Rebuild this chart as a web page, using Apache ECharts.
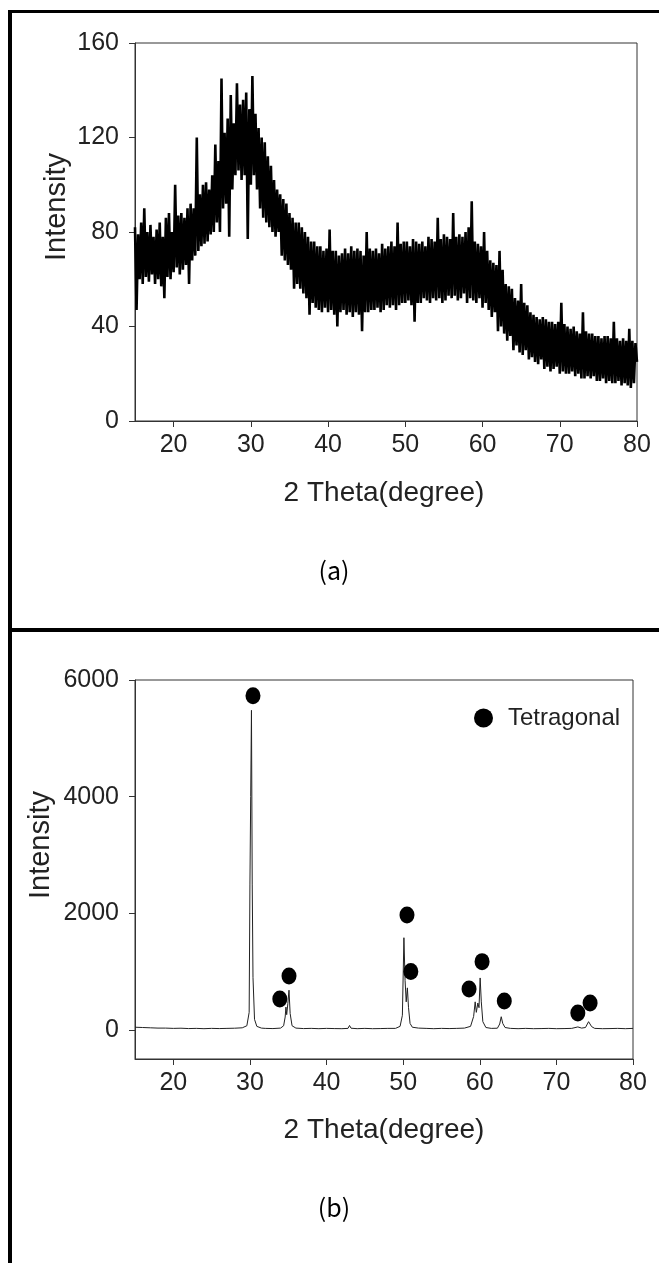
<!DOCTYPE html>
<html><head><meta charset="utf-8">
<script src="https://cdn.jsdelivr.net/npm/echarts@6/dist/echarts.min.js"></script>
<style>html,body{margin:0;padding:0;background:#fff}#c{width:659px;height:1263px}</style>
</head><body><div id="c"></div>
<script>
// (a) amorphous pattern: 2θ from 15 to 80 in 0.2° steps
const thetaStartA = 15;
const thetaStepA = 0.2;
const intensityA = [
 82,47,79,60,84, 58,90,61,80,59, 83,62,78,58,81, 60,84,57,78,52, 86,61,88,60,80,
 63,100,65,87,62, 88,64,86,66,90, 58,92,68,90,70, 120,72,96,74,100, 75,101,76,98,79,
 104,80,117,84,110, 80,145,90,122,92, 128,78,138,98,126, 104,143,106,134,102, 136,104,139,77,132,
 100,146,104,130,98, 124,90,120,86,118, 84,112,82,108,80, 102,78,98,80,96, 70,94,68,92,66,
 88,64,86,56,84, 58,84,56,82,54, 80,52,78,45,76, 50,76,48,74,47, 74,46,72,48,73,
 46,81,47,72,45, 72,40,70,46,71, 47,73,45,71,46, 74,44,72,46,73, 45,72,38,70,46,
 80,46,73,47,72, 47,73,48,71,46, 75,47,73,49,74, 48,76,49,74,47, 84,49,75,50,76,
 50,76,51,74,49, 77,42,76,50,75, 50,76,52,74,51, 78,50,77,52,76, 51,86,52,77,50,
 79,51,78,53,77, 52,88,53,78,51, 79,52,78,54,80, 50,82,52,93,51, 76,50,75,52,74,
 48,80,50,72,47, 68,44,67,46,66, 38,72,40,64,37, 58,34,57,36,56, 30,52,32,51,29,
 58,28,50,30,49, 26,46,27,45,25, 44,24,43,26,44, 22,43,23,42,21, 42,22,41,23,42,
 20,50,21,41,20, 40,20,39,21,40, 19,38,20,37,18, 46,18,38,19,37, 18,37,19,36,17,
 36,17,35,18,36, 16,36,17,35,16, 42,16,35,17,34, 15,35,16,34,15, 39,14,34,16,33,
 25
];
// (b) crystalline pattern: [2θ, intensity]
const patternB = [
 [15,45],[16,40],[17,35],[18,30],[19,30],[20,25],[21,28],[22,22],[23,25],[24,20],[25,25],[26,22],[27,25],[28,28],[29,35],
 [29.6,70],[29.9,300],[30.0,2500],[30.1,4000],[30.2,5480],[30.3,2500],[30.4,900],[30.6,180],[30.9,60],[31.5,30],
 [32,25],[33,22],[34,30],[34.4,70],[34.6,220],[34.7,390],[34.8,260],[34.95,450],[35.1,680],[35.25,280],[35.5,70],
 [36,30],[37,22],[38,25],[39,20],[40,25],[41,22],[42,20],[42.8,25],[43.0,75],[43.2,28],[44,20],[45,25],[46,20],[47,22],[48,25],[49,25],
 [49.6,60],[49.9,250],[50.1,1580],[50.25,850],[50.4,480],[50.55,720],[50.7,380],[50.9,110],[51.2,45],
 [52,30],[53,25],[54,20],[55,25],[56,22],[57,25],[58,30],
 [58.8,60],[59.2,230],[59.4,480],[59.55,300],[59.75,460],[59.9,380],[60.05,890],[60.2,480],[60.4,140],[60.8,40],
 [61.5,25],[62.3,28],[62.6,100],[62.8,225],[63.0,110],[63.3,40],
 [64,25],[65,20],[66,25],[67,20],[68,22],[69,25],[70,20],[71,22],[72,25],
 [72.8,50],[73.0,70],[73.3,30],[73.8,40],[74.2,140],[74.4,160],[74.6,55],
 [75,25],[76,20],[77,22],[78,25],[79,20],[80,25]
];
// tetragonal phase markers
const tetraTheta = [30.4, 33.9, 35.1, 50.5, 51.0, 58.6, 60.3, 63.2, 72.8, 74.4];
const tetraMark  = [5730, 530, 925, 1970, 1000, 700, 1170, 495, 290, 460];

const xTicks = [20,30,40,50,60,70,80];
const yTicksA = [0,40,80,120,160];
const yTicksB = [0,2000,4000,6000];

const FONT = 'Liberation Sans, Arial, sans-serif';
const AX = '#333';

function xAxis(gi){
  return {type:'value', gridIndex:gi, min:15, max:80,
    axisLine:{show:true, onZero:false, lineStyle:{color:AX, width:1}},
    axisTick:{show:true, inside:false, length:6, customValues:xTicks, lineStyle:{color:AX}},
    axisLabel:{customValues:xTicks, margin:12, fontSize:25, color:'#222', fontFamily:FONT, formatter:v=>String(v)},
    splitLine:{show:false}};
}
function yAxis(gi, min, max, ticks){
  return {type:'value', gridIndex:gi, min:min, max:max,
    axisLine:{show:true, onZero:false, lineStyle:{color:AX, width:1}},
    axisTick:{show:true, inside:false, length:6, customValues:ticks, lineStyle:{color:AX}},
    axisLabel:{customValues:ticks, margin:16, fontSize:25, color:'#222', fontFamily:FONT, formatter:v=>String(v)},
    splitLine:{show:false}};
}
function txt(x, y, s, size, fam, rot, color){
  return {type:'text', x:x, y:y, rotation:rot||0, z:10,
    style:{text:s, fontSize:size, fontFamily:fam, fill:color||'#222', textAlign:'center', textVerticalAlign:'middle'}};
}

const chart = echarts.init(document.getElementById('c'));
chart.setOption({
  animation:false,
  backgroundColor:'#fff',
  grid:[
    {left:135, top:43, width:502, height:378, show:true, borderColor:AX, borderWidth:1},
    {left:135, top:680, width:498, height:379, show:true, borderColor:AX, borderWidth:1}
  ],
  xAxis:[xAxis(0), xAxis(1)],
  yAxis:[yAxis(0,0,160,yTicksA), yAxis(1,-500,6000,yTicksB)],
  legend:{data:['Tetragonal'], left:469, top:701, icon:'circle', itemWidth:19, itemHeight:19,
    itemStyle:{opacity:1, color:'#000'},
    textStyle:{fontSize:24, fontFamily:FONT, color:'#222', padding:[0,0,0,10]}},
  series:[
    {type:'line', xAxisIndex:0, yAxisIndex:0, showSymbol:false, symbol:'none', sampling:null,
     lineStyle:{color:'#000', width:2.6, join:'bevel'}, data:intensityA.map((v,i)=>[+(thetaStartA+i*thetaStepA).toFixed(1), v])},
    {type:'line', xAxisIndex:1, yAxisIndex:1, showSymbol:false, symbol:'none',
     lineStyle:{color:'#222', width:1, join:'bevel'}, data:patternB},
    {name:'Tetragonal', type:'scatter', xAxisIndex:1, yAxisIndex:1, symbol:'circle', symbolSize:[15,17],
     itemStyle:{color:'#000', opacity:1}, z:5, data:tetraTheta.map((t,i)=>[t, tetraMark[i]])}
  ],
  graphic:[
    {type:'rect', shape:{x:8, y:10, width:4, height:1253}, style:{fill:'#000'}},
    {type:'rect', shape:{x:8, y:10, width:651, height:3}, style:{fill:'#000'}},
    {type:'rect', shape:{x:8, y:628, width:651, height:4}, style:{fill:'#000'}},
    txt(57, 207, 'Intensity', 29, FONT, Math.PI/2),
    txt(41, 845, 'Intensity', 29, FONT, Math.PI/2),
    txt(384, 493, '2 Theta(degree)', 28, FONT),
    txt(384, 1130, '2 Theta(degree)', 28, FONT),
    txt(334, 570, '(a)', 25, 'Noto Sans CJK KR, sans-serif', 0, '#000'),
    txt(334, 1207, '(b)', 25, 'Noto Sans CJK KR, sans-serif', 0, '#000')
  ]
});
</script>
</body></html>
